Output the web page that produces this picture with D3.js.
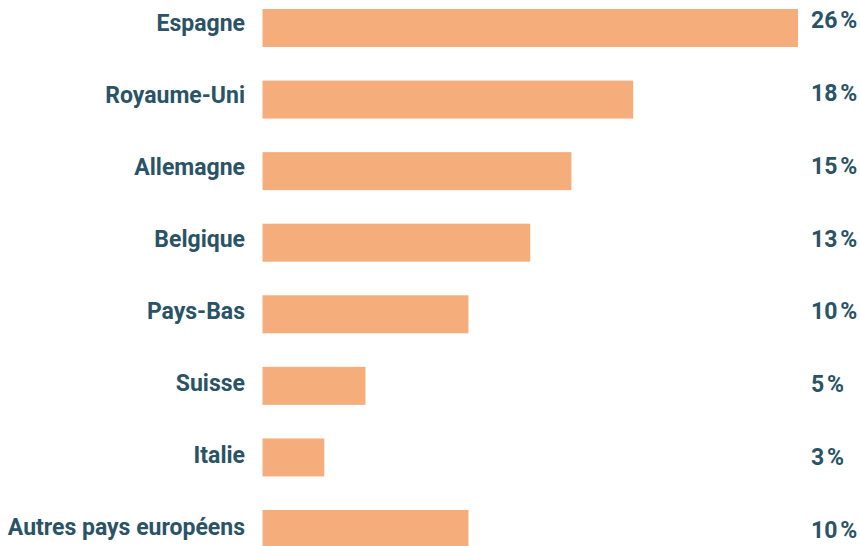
<!DOCTYPE html>
<meta charset="utf-8">
<style>
body { margin: 0; background: #fff; }
svg { display: block; }
.label, .value {
  font-family: Roboto, "Noto Sans", sans-serif;
  font-weight: 700;
  font-size: 23px;
  fill: #2a5366;
}
.bar { fill: #f5ae7b; }
</style>
<svg width="860" height="546"></svg>
<script src="https://d3js.org/d3.v7.min.js"></script>
<script>

var countries = ["Espagne", "Royaume-Uni", "Allemagne", "Belgique", "Pays-Bas", "Suisse", "Italie", "Autres pays européens"];
var shares = [26, 18, 15, 13, 10, 5, 3, 10];
var valueLabels = ["26\u202f%", "18\u202f%", "15\u202f%", "13\u202f%", "10\u202f%", "5\u202f%", "3\u202f%", "10\u202f%"];

var svg = d3.select("svg");

var x = d3.scaleLinear().domain([0, 26]).range([262.5, 798]);

// bars: 38px tall, rows about 71.6px apart
var step = 71.57, barH = 38;
var y = d3.scaleBand().domain(countries)
  .range([9, 9 + 7 * step + barH])
  .paddingInner((step - barH) / step).paddingOuter(0);
var yLabel = d3.scalePoint().domain(countries).range([31, 535]);
var yValue = d3.scalePoint().domain(countries).range([28, 538]);

svg.selectAll(".bar")
  .data(countries)
  .enter().append("rect")
  .attr("class", "bar")
  .attr("x", x(0))
  .attr("y", function(d) { return y(d); })
  .attr("width", function(d, i) { return x(shares[i]) - x(0); })
  .attr("height", y.bandwidth());

svg.selectAll(".label")
  .data(countries)
  .enter().append("text")
  .attr("class", "label")
  .attr("x", 245)
  .attr("y", function(d) { return yLabel(d); })
  .attr("text-anchor", "end")
  .text(function(d) { return d; });

svg.selectAll(".value")
  .data(countries)
  .enter().append("text")
  .attr("class", "value")
  .attr("x", 811)
  .attr("y", function(d) { return yValue(d); })
  .text(function(d, i) { return valueLabels[i]; });

</script>
